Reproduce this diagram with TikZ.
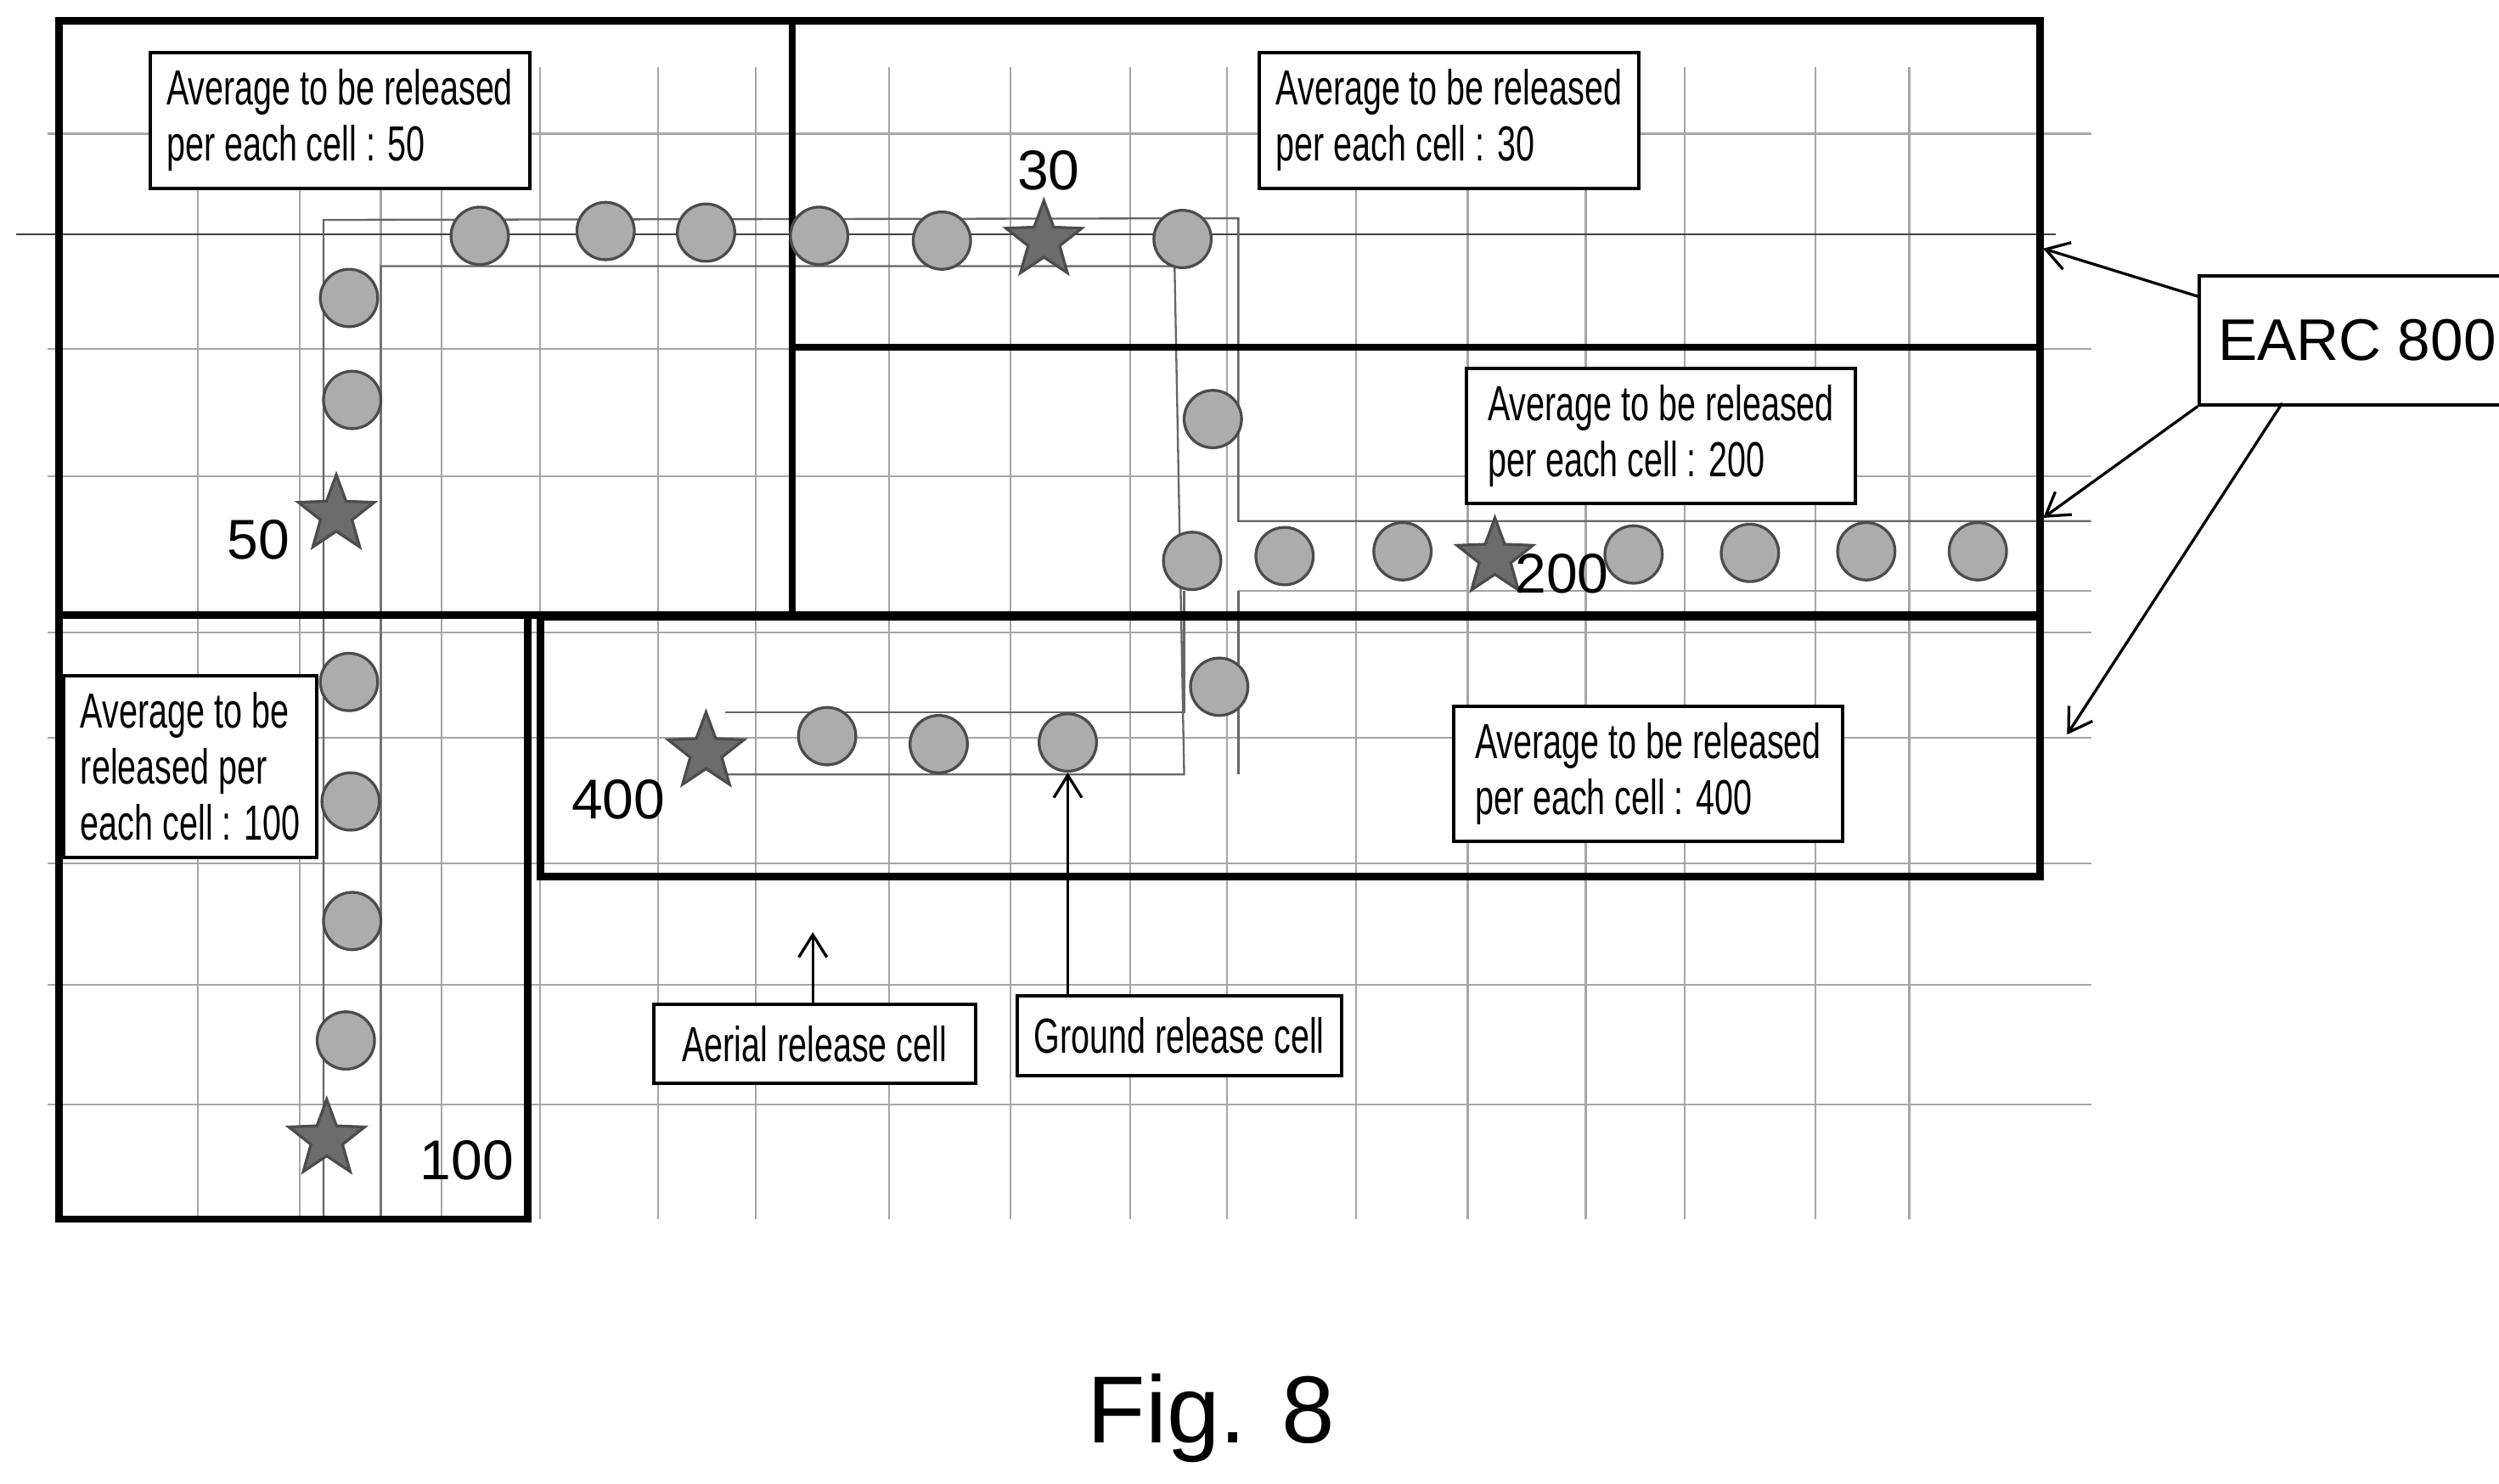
\documentclass[tikz,border=0pt]{standalone}
\usepackage{fontspec}
\setmainfont{Liberation Sans}
\newfontfamily\narrowf[FakeStretch=0.68]{Liberation Sans}
\usetikzlibrary{shapes.geometric,arrows.meta}
\begin{document}
\begin{tikzpicture}[x=0.01cm,y=-0.01cm,
  grid/.style={gray!70,line width=0.35pt},
  path/.style={gray!80!black,line width=0.35pt},
  frame/.style={line width=1.3pt},
  dot/.style={circle,draw=black!70,fill=gray!65,line width=0.5pt,minimum size=0.36cm,inner sep=0},
  st/.style={star,star points=5,star point ratio=2.4,draw=black!70,fill=gray!85!black,line width=0.5pt,minimum size=0.5cm,inner sep=0},
  lab/.style={draw,line width=0.6pt,fill=white,align=left,inner sep=3pt,font=\narrowf\fontsize{8.8}{10}\selectfont},
  num/.style={font=\fontsize{10}{12}\selectfont,inner sep=0},
  arr/.style={-{Straight Barb[length=4pt,width=5pt]},line width=0.5pt}]
\useasboundingbox (0,0) rectangle (1568,931);
% grid
\foreach \x in {124,188,239,277,339,413,474,558,634,709,770,851,921,995,1057,1139,1198}
  \draw[grid] (\x,42) -- (\x,765);
\foreach \y in {84,219,299,397,463,542,618,693}
  \draw[grid] (30,\y) -- (1312,\y);
\draw[grid] (777,371) -- (1312,371);
\draw[gray!50!black,line width=0.4pt] (10,147) -- (1290,147);
% corridors
\draw[path] (203,765) -- (203,138) -- (777,137) -- (777,327) -- (1312,327);
\draw[path] (239,765) -- (239,167) -- (737,167) -- (743,486) -- (455,486);
\draw[path] (455,447) -- (743,447) -- (743,371);
\draw[path] (777,371) -- (777,486);
% frames
\draw[frame] (37,13) rectangle (497,386);
\draw[frame] (497,13) rectangle (1280,218);
\draw[frame] (497,218) rectangle (1280,386);
\draw[frame] (37,386) rectangle (331,765);
\draw[frame] (339,387) rectangle (1280,550);
% dots
\foreach \n/\x/\y in {a/301/148,b/380/145,c/443/146,d/514/148,e/591/151,f/742/150,
  g/219/187,h/221/251,i/219/428,j/220/503,k/221/578,l/217/653,
  m/761/263,n/748/352,o/806/349,p/880/346,q/1025/348,r/1098/347,s/1171/346,t/1241/346,u/765/431,
  v/519/462,w/589/467,z/670/466}
  \node[dot] (c\n) at (\x,\y) {};
\node[st] (s30) at (655,151) {};
\node[st] (s50) at (211,323) {};
\node[st] (s100) at (205,715) {};
\node[st] (s200) at (938,350) {};
\node[st] (s400) at (443,472) {};
\node[num] (n30) at (658,107) {30};
\node[num] (n50) at (162,339) {50};
\node[num] (n100) at (293,728) {100};
\node[num] (n200) at (980,360) {200};
\node[num] (n400) at (388,502) {400};
% labels
\node[lab,anchor=north west,minimum width=2.32cm,minimum height=0.78cm] (b50) at (93,32) {Average to be released\\per each cell : 50};
\node[lab,anchor=north west,minimum width=2.31cm,minimum height=0.78cm] (b30) at (789,32) {Average to be released\\per each cell : 30};
\node[lab,anchor=north west,minimum width=2.44cm,minimum height=0.84cm] (b200) at (919,230) {Average to be released\\per each cell : 200};
\node[lab,anchor=north west,minimum width=2.44cm,minimum height=0.85cm] (b400) at (911,442) {Average to be released\\per each cell : 400};
\node[lab,anchor=north west,minimum width=1.57cm,minimum height=1.07cm] (b100) at (39,423) {Average to be\\released per\\each cell : 100};
\node[lab,anchor=north west,minimum width=2.02cm,minimum height=0.5cm,align=center] (aer) at (409,629) {Aerial release cell};
\node[lab,anchor=north west,minimum width=2.01cm,minimum height=0.5cm,align=center] (gro) at (637,624) {Ground release cell};
\node[draw,line width=0.6pt,anchor=north west,minimum width=1.77cm,minimum height=0.81cm,font=\fontsize{10.5}{12}\selectfont] (earc) at (1379,172) {EARC 800};
\coordinate (e1) at (1282,156);
\coordinate (e2) at (1282,325);
\coordinate (e3) at (1297,461);
\draw[arr] (1379,186) -- (e1);
\draw[arr] (1379,255) -- (e2);
\draw[arr] (1432,253) -- (e3);
\coordinate (ae) at (510,585);
\draw[arr] (aer.north -| ae) -- (ae);
\draw[arr] (gro.north -| cz) -- (cz.south);
\node[font=\fontsize{17}{20}\selectfont] (fig) at (760,890) {Fig. 8};
\end{tikzpicture}
\end{document}
